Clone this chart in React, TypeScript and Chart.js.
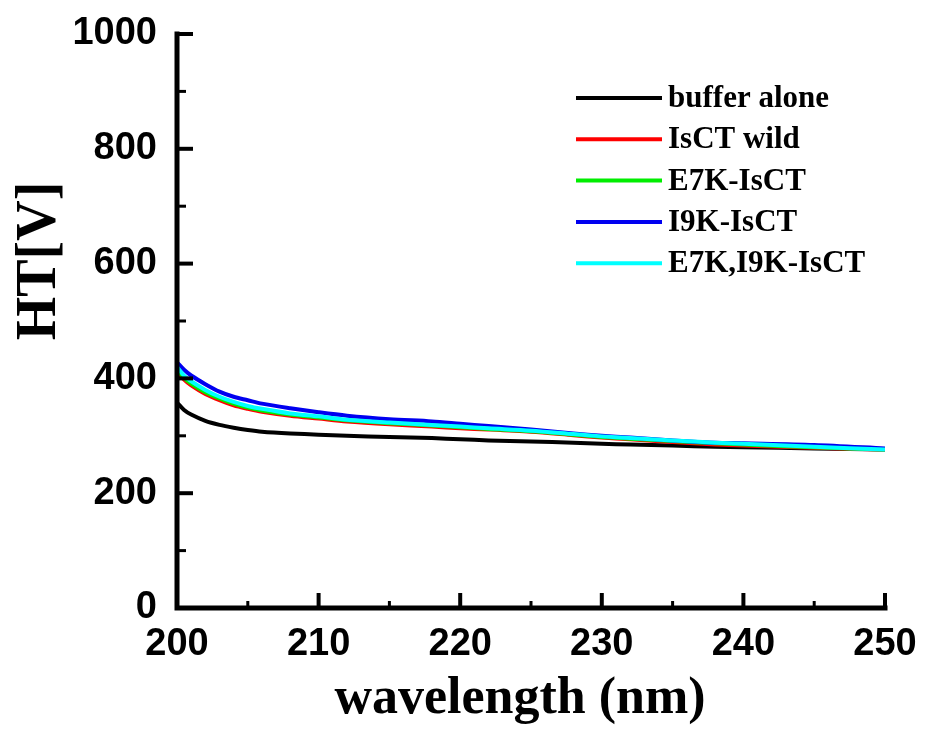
import { useEffect, useRef } from "react";
import { Chart, registerables } from "chart.js";

Chart.register(...registerables);

const wavelengths = [200, 200.5, 201, 202, 203, 204, 205, 206, 208, 210, 212, 215, 218, 220, 222, 225, 228, 230, 232, 235, 238, 240, 245, 250];
const bufferAlone = [358, 345, 337, 326, 319, 314, 310, 307, 304, 302, 300, 298, 296, 294, 292, 290, 288, 286, 285, 283, 281, 280, 278, 276];
const isctWild = [412, 398, 388, 373, 362, 353, 347, 342, 335, 330, 325, 320, 316, 313, 311, 307, 301, 297, 294, 289, 285, 283, 279, 276];
const e7kIsct = [416, 401, 391, 376, 365, 356, 349, 344, 337, 332, 327, 322, 318, 315, 312, 308, 302, 298, 295, 291, 287, 285, 280, 276];
const i9kIsct = [428, 415, 405, 390, 377, 368, 362, 356, 348, 341, 335, 329, 325, 321, 317, 311, 304, 300, 297, 292, 288, 287, 284, 278];
const e7kI9kIsct = [420, 405, 395, 380, 368, 359, 352, 347, 339, 334, 328, 323, 319, 316, 313, 309, 303, 299, 296, 292, 288, 286, 281, 276];

const seriesLabels = ["buffer alone", "IsCT wild", "E7K-IsCT", "I9K-IsCT", "E7K,I9K-IsCT"];
const seriesValues = [bufferAlone, isctWild, e7kIsct, i9kIsct, e7kI9kIsct];
const seriesColors = ["#000000", "#ff0000", "#00ee00", "#0000f0", "#00ffff"];
const drawOrder = [5, 4, 3, 2, 1];

const xTitle = "wavelength (nm)";
const yTitle = "HT[V]";

const decorPlugin = {
  id: "decor",
  afterDraw(chart: any) {
    const ctx = chart.ctx as CanvasRenderingContext2D;
    const xs = chart.scales.x;
    const ys = chart.scales.y;
    const area = chart.chartArea;
    ctx.save();
    ctx.strokeStyle = "#000";
    ctx.fillStyle = "#000";
    // axis lines
    ctx.lineWidth = 5;
    ctx.lineCap = "square";
    ctx.beginPath();
    ctx.moveTo(area.left, area.top);
    ctx.lineTo(area.left, area.bottom);
    ctx.lineTo(area.right, area.bottom);
    ctx.stroke();
    ctx.lineCap = "butt";
    // x ticks (inward)
    for (let v = 200; v <= 250; v += 5) {
      const px = xs.getPixelForValue(v);
      const major = v % 10 === 0;
      ctx.lineWidth = major ? 4 : 3;
      ctx.beginPath();
      ctx.moveTo(px, area.bottom);
      ctx.lineTo(px, area.bottom - (major ? 15 : 7));
      ctx.stroke();
    }
    // y ticks (inward)
    for (let v = 0; v <= 1000; v += 100) {
      const py = ys.getPixelForValue(v);
      const major = v % 200 === 0;
      ctx.lineWidth = major ? 4 : 3;
      ctx.beginPath();
      ctx.moveTo(area.left, py);
      ctx.lineTo(area.left + (major ? 16 : 9), py);
      ctx.stroke();
    }
    // legend
    const ds = chart.data.datasets;
    ctx.font = "bold 31px 'Liberation Serif', 'Times New Roman', serif";
    ctx.textAlign = "left";
    ctx.textBaseline = "alphabetic";
    for (let i = 0; i < ds.length; i++) {
      const y = 98 + i * 41.3;
      ctx.strokeStyle = ds[i].borderColor;
      ctx.lineWidth = 4;
      ctx.beginPath();
      ctx.moveTo(576, y);
      ctx.lineTo(662, y);
      ctx.stroke();
      ctx.fillStyle = "#000";
      ctx.fillText(ds[i].label, 668, y + 9);
    }
    // axis titles
    ctx.fillStyle = "#000";
    ctx.font = "bold 52px 'Liberation Serif', 'Times New Roman', serif";
    ctx.textAlign = "center";
    ctx.fillText(xTitle, 520, 713);
    ctx.save();
    ctx.translate(55, 261);
    ctx.rotate(-Math.PI / 2);
    ctx.font = "bold 56px 'Liberation Serif', 'Times New Roman', serif";
    ctx.fillText(yTitle, 0, 0);
    ctx.restore();
    ctx.restore();
  },
};

export default function App() {
  const ref = useRef<HTMLCanvasElement>(null);
  useEffect(() => {
    document.body.style.margin = "0";
    const canvas = ref.current!;
    const chart = new Chart(canvas, {
      type: "line",
      data: {
        datasets: seriesLabels.map((label, i) => ({
          label,
          data: wavelengths.map((w, j) => ({ x: w, y: seriesValues[i][j] })),
          borderColor: seriesColors[i],
          backgroundColor: seriesColors[i],
          borderWidth: 4,
          pointRadius: 0,
          tension: 0.3,
          fill: false,
          order: drawOrder[i],
        })),
      },
      options: {
        animation: false,
        responsive: false,
        devicePixelRatio: 1,
        layout: { padding: { top: 34, right: 41, left: 0, bottom: 0 } },
        plugins: { legend: { display: false }, tooltip: { enabled: false } },
        scales: {
          x: {
            type: "linear",
            min: 200,
            max: 250,
            grid: { display: false, drawTicks: false },
            border: { display: false },
            ticks: {
              stepSize: 10,
              padding: 14,
              maxRotation: 0,
              autoSkip: false,
              color: "#000",
              callback: (v: any) => String(v),
              font: { family: "'Liberation Sans', Arial, sans-serif", size: 38, weight: "bold" },
            },
            afterFit: (s: any) => {
              s.height = 123;
              s.paddingLeft = 0;
              s.paddingRight = 0;
            },
          },
          y: {
            type: "linear",
            min: 0,
            max: 1000,
            grid: { display: false, drawTicks: false },
            border: { display: false },
            ticks: {
              stepSize: 200,
              padding: 20,
              color: "#000",
              callback: (v: any) => String(v),
              font: { family: "'Liberation Sans', Arial, sans-serif", size: 38, weight: "bold" },
            },
            afterFit: (s: any) => {
              s.width = 177;
              s.paddingTop = 0;
              s.paddingBottom = 0;
            },
          },
        },
      },
      plugins: [decorPlugin],
    });
    return () => chart.destroy();
  }, []);
  return (
    <div style={{ width: 926, height: 731, background: "#fff" }}>
      <canvas ref={ref} width={926} height={731} style={{ display: "block" }} />
    </div>
  );
}
